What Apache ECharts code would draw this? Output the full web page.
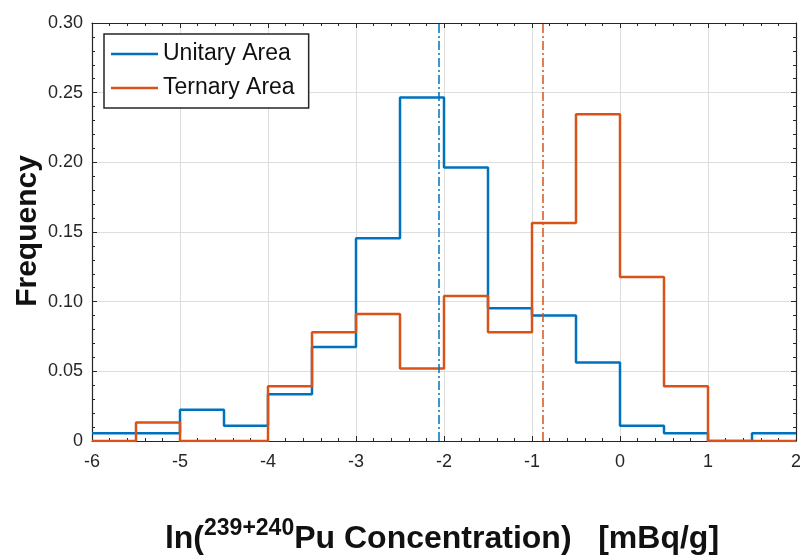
<!DOCTYPE html>
<html>
<head>
<meta charset="utf-8">
<script src="https://cdn.jsdelivr.net/npm/echarts@6/dist/echarts.min.js"></script>
<style>
  html, body { margin: 0; padding: 0; background: #fff; }
  #chart { width: 800px; height: 558px; }
</style>
</head>
<body>
<div id="chart"></div>
<script>
// bin edges of the histogram (width 0.5)
const binEdges = [-6, -5.5, -5, -4.5, -4, -3.5, -3, -2.5, -2, -1.5, -1, -0.5, 0, 0.5, 1, 1.5, 2];
// frequency per bin (16 bins)
const unitary = [0.0056, 0.0056, 0.0225, 0.0110, 0.0335, 0.0675, 0.1455, 0.2465,
                 0.1963, 0.0953, 0.0900, 0.0563, 0.0110, 0.0056, 0, 0.0056];
const ternary = [0, 0.0132, 0, 0, 0.0393, 0.0780, 0.0912, 0.0520,
                 0.1040, 0.0780, 0.1565, 0.2345, 0.1177, 0.0393, 0, 0];
// mean lines
const unitaryMean = -2.06;
const ternaryMean = -0.88;
const xTicks = [-6, -5, -4, -3, -2, -1, 0, 1, 2];
const yTicks = [0, 0.05, 0.10, 0.15, 0.20, 0.25, 0.30];

const blue = '#0072BD';
const orange = '#D95319';
const ink = '#262626';
const font = 'Liberation Sans';

// stairs: each bin starts at its left edge, last point closes at right edge
const stairs = (vals) => {
  const pts = vals.map((v, i) => [binEdges[i], v]);
  pts.push([binEdges[binEdges.length - 1], vals[vals.length - 1]]);
  return pts;
};

const chart = echarts.init(document.getElementById('chart'));

const baseAxis = {
  axisLine: { show: true, onZero: false, lineStyle: { color: ink, width: 1.2 } },
  axisTick: { show: true, inside: true, length: 5, lineStyle: { color: ink } },
  minorTick: { show: true, splitNumber: 5, length: 3, lineStyle: { color: ink } },
};

const lineIcon = 'path://M0,0L47,0L47,2.6L0,2.6Z';

chart.setOption({
  animation: false,
  backgroundColor: '#fff',
  grid: { left: 92, right: 4, top: 23, bottom: 117, containLabel: false, outerBoundsMode: 'none' },
  legend: {
    left: 104,
    top: 34,
    orient: 'vertical',
    padding: [7, 14, 7, 7],
    itemGap: 8,
    itemWidth: 47,
    itemHeight: 26,
    borderColor: ink,
    borderWidth: 1.5,
    backgroundColor: '#fff',
    textStyle: { fontFamily: font, fontSize: 23, color: '#111', lineHeight: 26 },
    data: [
      { name: 'Unitary Area', icon: lineIcon },
      { name: 'Ternary Area', icon: lineIcon }
    ]
  },
  xAxis: [
    Object.assign({}, baseAxis, {
      type: 'value', min: -6, max: 2, interval: 1, position: 'bottom',
      axisLabel: {
        margin: 12, color: ink, fontFamily: font, fontSize: 18,
        formatter: (v) => xTicks.includes(v) ? String(v) : ''
      },
      splitLine: { show: true, lineStyle: { color: '#dedede', width: 1 } }
    }),
    Object.assign({}, baseAxis, {
      type: 'value', min: -6, max: 2, interval: 1, position: 'top',
      axisLabel: { show: false }, splitLine: { show: false }
    })
  ],
  yAxis: [
    Object.assign({}, baseAxis, {
      type: 'value', min: 0, max: 0.30, interval: 0.05, position: 'left',
      axisLabel: {
        margin: 9, color: ink, fontFamily: font, fontSize: 18,
        formatter: (v) => {
          const t = yTicks.find(y => Math.abs(y - v) < 1e-9);
          if (t === undefined) return '';
          return t === 0 ? '0' : t.toFixed(2);
        }
      },
      splitLine: { show: true, lineStyle: { color: '#dedede', width: 1 } }
    }),
    Object.assign({}, baseAxis, {
      type: 'value', min: 0, max: 0.30, interval: 0.05, position: 'right',
      axisLabel: { show: false }, splitLine: { show: false }
    })
  ],
  series: [
    {
      name: 'Unitary Area',
      type: 'line',
      step: 'end',
      symbol: 'none',
      data: stairs(unitary),
      lineStyle: { color: blue, width: 2.5 },
      itemStyle: { color: blue },
      markLine: {
        silent: true,
        symbol: 'none',
        label: { show: false },
        lineStyle: { color: blue, width: 1.5, type: [9, 3, 2, 3] },
        data: [{ xAxis: unitaryMean }]
      }
    },
    {
      name: 'Ternary Area',
      type: 'line',
      step: 'end',
      symbol: 'none',
      data: stairs(ternary),
      lineStyle: { color: orange, width: 2.5 },
      itemStyle: { color: orange },
      markLine: {
        silent: true,
        symbol: 'none',
        label: { show: false },
        lineStyle: { color: orange, width: 1.5, type: [9, 3, 2, 3] },
        data: [{ xAxis: ternaryMean }]
      }
    }
  ],
  graphic: [
    {
      type: 'text',
      x: 28, y: 231,
      rotation: Math.PI / 2,
      style: {
        text: 'Frequency',
        fontFamily: font, fontSize: 30, fontWeight: 'bold',
        fill: '#111', align: 'center', verticalAlign: 'middle'
      }
    },
    {
      type: 'text',
      x: 442, y: 536,
      style: {
        text: '{a|ln(}{s|239+240}{a|Pu Concentration)   [mBq/g]}',
        align: 'center', verticalAlign: 'middle',
        rich: {
          a: { fontFamily: font, fontSize: 32, fontWeight: 'bold', fill: '#111', lineHeight: 38, verticalAlign: 'bottom' },
          s: { fontFamily: font, fontSize: 23, fontWeight: 'bold', fill: '#111', lineHeight: 23, verticalAlign: 'top' }
        }
      }
    }
  ]
});
</script>
</body>
</html>
